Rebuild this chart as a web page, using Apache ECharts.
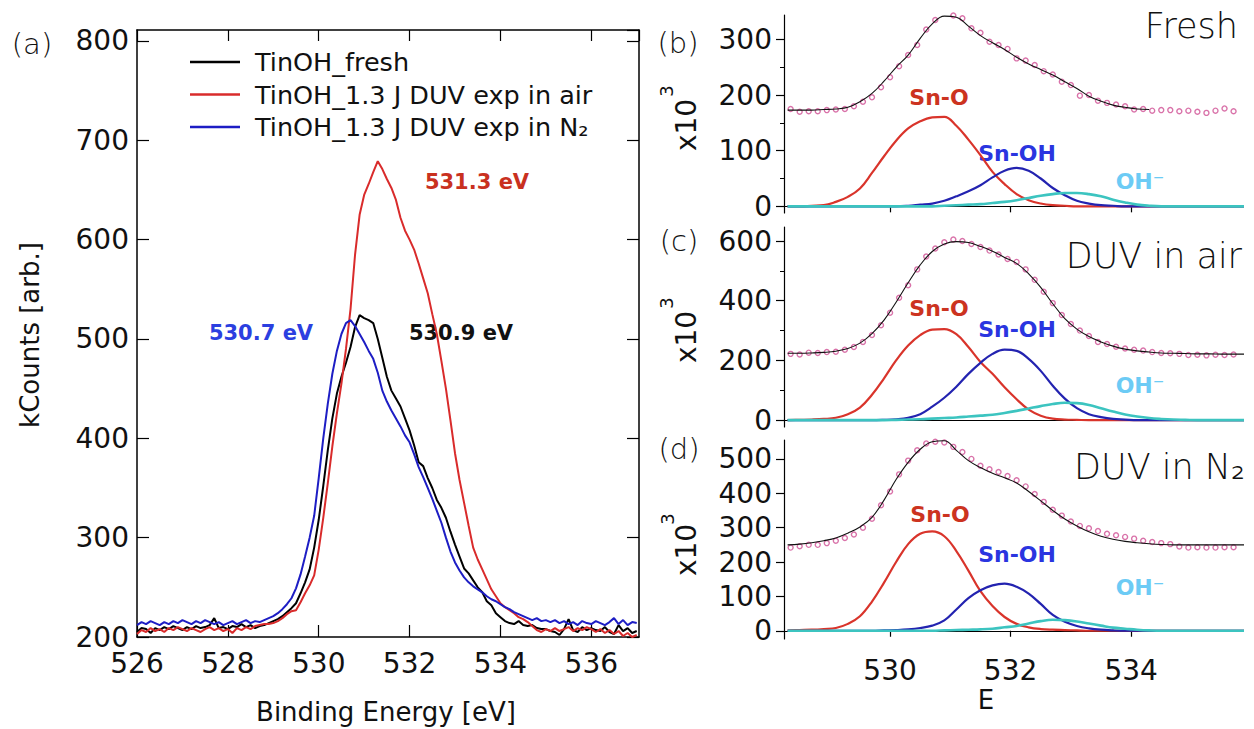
<!DOCTYPE html>
<html>
<head>
<meta charset="utf-8">
<script src="https://cdn.jsdelivr.net/npm/echarts@6/dist/echarts.min.js"></script>
<style>
html, body { margin: 0; padding: 0; background: #fff; }
#chart { width: 1254px; height: 729px; }
</style>
</head>
<body>
<div id="chart"></div>
<script>
// (a) O 1s spectra, 526.0 .. 537.0 eV in 0.1 eV steps (kCounts)
var specStart = 526.0, specStep = 0.1;
var fresh = [205,209,208,204,209,207,210,208,211,209,
  207,210,208,211,209,210,212,219,209,210,
  208,211,210,213,210,212,209,211,212,214,
  216,218,221,225,229,234,244,255,268,290,
  318,352,388,420,445,462,476,492,512,524,
  521,519,516,500,481,462,448,440,432,420,
  408,393,376,372,360,350,338,330,320,306,
  293,281,269,264,257,250,245,236,232,224,
  220,216,214,213,216,212,211,212,209,208,
  208,206,205,202,208,218,207,205,210,207,
  209,207,206,210,205,203,212,206,209,204,
  206];
var air = [203,207,205,209,206,208,205,209,207,210,
  208,206,209,207,205,208,210,207,209,206,
  208,204,209,207,210,208,211,212,213,213,
  214,216,219,223,226,227,235,244,252,262,
  288,320,355,392,425,455,490,530,585,625,
  645,656,668,679,671,661,652,640,622,609,
  600,590,576,561,546,525,505,478,450,418,
  385,358,335,312,290,278,268,258,248,241,
  234,230,227,224,220,218,215,211,207,205,
  208,206,209,206,208,210,206,209,207,210,
  208,205,208,204,207,203,206,201,204,200,
  202];
var n2 = [212,215,213,216,214,212,215,213,216,214,
  217,215,213,216,214,217,215,213,215,212,
  214,216,213,215,217,214,216,215,217,219,
  221,224,228,233,239,249,263,281,300,322,
  360,400,435,465,488,505,516,519,513,505,
  497,488,480,466,448,437,428,420,412,403,
  396,384,371,361,350,339,327,315,300,286,
  275,267,260,255,251,248,245,241,238,236,
  233,230,228,225,223,221,219,217,219,216,
  217,215,217,214,216,213,215,212,216,214,
  213,216,214,212,215,219,213,217,212,215,
  214];
var legendNames = ['TinOH_fresh', 'TinOH_1.3 J DUV exp in air', 'TinOH_1.3 J DUV exp in N\u2082'];

// (b)-(d) fitted components, 528.3 .. 535.9 eV in 0.2 eV steps (x10^3)
var fitStart = 528.3, fitStep = 0.2;
var freshSnO  = [0,0,1,2,8,17,32,60,90,118,140,153,160,161,145,120,92,62,40,22,11,5,2,1,0,0,0,0,0,0,0,0,0,0,0,0,0,0,0];
var freshSnOH = [0,0,0,0,0,0,0,0,0,0,1,3,5,10,18,27,38,52,64,69,64,50,33,20,10,5,2,1,0,0,0,0,0,0,0,0,0,0,0];
var freshOH   = [0,0,0,0,0,0,0,0,0,0,0,0,0,1,2,3,4,6,8,11,15,19,22,24,24,22,18,12,7,3,1,0,0,0,0,0,0,0,0];
var freshEnv  = [173,173,173,174,175,178,188,203,225,250,272,302,328,342,340,324,307,294,282,268,256,246,236,224,212,198,189,182,178,175,174];

var airSnO  = [0,1,2,4,8,20,42,85,140,200,250,285,303,305,288,245,195,155,110,70,35,15,5,2,1,0,0,0,0,0,0,0,0,0,0,0,0,0,0];
var airSnOH = [0,0,0,0,0,0,0,0,1,3,8,20,45,75,112,155,192,222,236,232,205,165,115,72,40,20,10,4,2,0,0,0,0,0,0,0,0,0,0];
var airOH   = [0,0,0,0,0,0,0,0,0,1,2,3,5,7,9,12,15,18,24,31,39,47,54,58,57,51,40,29,19,12,7,4,2,1,0,0,0,0,0];
var airEnv  = [224,224,225,227,231,240,258,290,335,395,460,520,565,590,598,595,582,566,545,525,490,445,390,340,305,280,262,248,238,232,228,225,224,223,222,222,221,221,221];

var n2SnO  = [1,2,3,5,8,20,42,85,140,200,252,282,289,275,232,175,115,72,40,20,10,5,3,2,1,0,0,0,0,0,0,0,0,0,0,0,0,0,0];
var n2SnOH = [0,0,0,0,0,0,0,0,1,2,4,8,15,30,62,95,118,132,137,128,108,78,46,26,14,7,3,1,0,0,0,0,0,0,0,0,0,0,0];
var n2OH   = [0,0,0,0,0,0,0,0,0,0,0,0,0,1,2,3,4,6,10,14,21,28,32,31,27,21,15,9,6,3,1,0,0,0,0,0,0,0,0];
var n2Env  = [250,252,256,262,270,284,302,330,380,440,490,528,550,553,525,495,475,458,445,430,405,378,350,325,305,288,275,266,260,256,253,251,250,250,250,250,250,250,250];

// measured points, 528.35 .. 535.70 eV in 0.15 eV steps
var ptStart = 528.35, ptStep = 0.15;
var freshPts = [175,170,171,171,173,174,175,180,188,196,
  214,232,252,272,290,318,335,345,343,338,
  320,312,296,290,283,266,262,254,243,237,
  224,218,199,200,190,186,183,180,174,175,
  172,173,173,171,172,170,168,172,176,171];
var airPts = [222,220,226,225,228,229,236,245,262,285,
  318,360,410,452,505,548,575,596,605,600,
  590,580,568,555,540,530,505,470,430,392,
  352,322,300,282,262,255,246,240,236,233,
  228,225,224,222,218,219,217,219,218,220];
var n2Pts = [242,246,250,250,255,262,270,280,300,326,
  365,405,455,495,525,545,550,548,535,520,
  500,480,470,462,450,438,420,398,375,352,
  335,318,305,298,290,282,278,273,268,262,
  258,255,252,245,242,243,242,242,243,243];

var FONT = 'DejaVu Sans';

function pairs(e0, step, vals) {
  return vals.map(function (v, i) { return [Math.round((e0 + i * step) * 100) / 100, v]; });
}

var chart = echarts.init(document.getElementById('chart'), null, { renderer: 'svg' });

function spec(name, vals, color) {
  return {
    name: name, type: 'line', xAxisIndex: 0, yAxisIndex: 0,
    data: pairs(specStart, specStep, vals), symbol: 'none',
    lineStyle: { color: color, width: 2 }, itemStyle: { color: color }, z: 3
  };
}

function comp(gi, yi, vals, color, width) {
  return {
    type: 'line', xAxisIndex: gi, yAxisIndex: yi,
    data: pairs(fitStart, fitStep, vals), symbol: 'none', smooth: 0.4,
    lineStyle: { color: color, width: width || 2.2 }, z: 3
  };
}

function pts(gi, yi, vals) {
  return {
    type: 'scatter', xAxisIndex: gi, yAxisIndex: yi,
    data: pairs(ptStart, ptStep, vals), symbol: 'circle', symbolSize: 5,
    itemStyle: { color: 'rgba(255,255,255,0)', borderColor: '#cf4f94', borderWidth: 1.4 }, z: 2
  };
}

function env(gi, yi, vals) {
  return {
    type: 'line', xAxisIndex: gi, yAxisIndex: yi,
    data: pairs(fitStart, fitStep, vals), symbol: 'none', smooth: 0.4,
    lineStyle: { color: '#111', width: 1.1 }, z: 4
  };
}

var axisLine = { show: true, lineStyle: { color: '#000', width: 1.5 } };
var rAxisLine = { show: true, lineStyle: { color: '#000', width: 1.2 } };

// right panels share the energy axis
function rightX(gi, ticks, labels) {
  return {
    type: 'value', gridIndex: gi, min: 528.24, max: 535.84, position: 'bottom',
    axisLine: rAxisLine, splitLine: { show: false },
    axisTick: ticks ? { show: true, inside: false, length: 6, customValues: [530, 532, 534], lineStyle: { color: '#000', width: 1.2 } } : { show: false },
    axisLabel: labels ? { show: true, customValues: [530, 532, 534], fontSize: 28, lineHeight: 28, fontFamily: FONT, color: '#111', margin: 17 } : { show: false }
  };
}

function rightY(gi, min, max, major) {
  return {
    type: 'value', gridIndex: gi, min: min, max: max, position: 'left',
    axisLine: rAxisLine, splitLine: { show: false },
    axisTick: { show: true, inside: false, length: 8, customValues: major, lineStyle: { color: '#000', width: 1.2 } },
    axisLabel: { show: true, customValues: major, fontSize: 28, fontFamily: FONT, color: '#111', margin: 12 }
  };
}

function minorY(gi, min, max, minor) {
  return {
    type: 'value', gridIndex: gi, min: min, max: max, position: 'left',
    axisLine: { show: false }, splitLine: { show: false }, axisLabel: { show: false },
    axisTick: { show: true, inside: false, length: 4, customValues: minor, lineStyle: { color: '#000', width: 1 } }
  };
}

function label(x, y, text, size, color, opts) {
  var o = opts || {};
  return {
    type: 'text', x: x, y: y, rotation: o.rot || 0,
    style: {
      text: text, fill: color, fontSize: size, fontFamily: FONT,
      fontWeight: o.weight || 'normal', lineHeight: size,
      align: o.align || 'center', verticalAlign: 'middle',
      textAlign: o.align || 'center', textVerticalAlign: 'middle'
    }
  };
}

var option = {
  animation: false,
  backgroundColor: '#fff',
  grid: [
    { left: 137, top: 30, width: 502, height: 607 },
    { left: 784, top: 15, width: 458, height: 198 },
    { left: 784, top: 227, width: 458, height: 200 },
    { left: 784, top: 440, width: 458, height: 199 }
  ],
  legend: {
    data: legendNames, orient: 'vertical', left: 190, top: 49, padding: 0,
    icon: 'rect', itemWidth: 50, itemHeight: 2.5, itemGap: 6.5,
    textStyle: { fontSize: 25.5, fontFamily: FONT, color: '#111', lineHeight: 26, padding: [0, 0, 0, 10] }
  },
  xAxis: [
    { type: 'value', gridIndex: 0, min: 526, max: 537.05, interval: 2, position: 'bottom',
      axisLine: axisLine, splitLine: { show: false },
      axisTick: { inside: true, length: 12, lineStyle: { color: '#000', width: 1.2 } },
      axisLabel: { fontSize: 28, fontFamily: FONT, color: '#111', margin: 12, showMaxLabel: false } },
    { type: 'value', gridIndex: 0, min: 526, max: 537.05, interval: 2, position: 'top',
      axisLine: axisLine, splitLine: { show: false },
      axisTick: { inside: true, length: 11, lineStyle: { color: '#000', width: 1.2 } },
      axisLabel: { show: false } },
    rightX(1, true, false),
    rightX(2, false, false),
    rightX(3, true, true)
  ],
  yAxis: [
    { type: 'value', gridIndex: 0, min: 200, max: 811, interval: 100, position: 'left',
      axisLine: axisLine, splitLine: { show: false },
      axisTick: { inside: true, length: 12, lineStyle: { color: '#000', width: 1.2 } },
      axisLabel: { fontSize: 28, fontFamily: FONT, color: '#111', margin: 8, showMaxLabel: false } },
    { type: 'value', gridIndex: 0, min: 200, max: 811, interval: 100, position: 'right',
      axisLine: axisLine, splitLine: { show: false },
      axisTick: { inside: true, length: 12, lineStyle: { color: '#000', width: 1.2 } },
      axisLabel: { show: false } },
    rightY(1, -12, 344, [0, 100, 200, 300]),
    minorY(1, -12, 344, [50, 150, 250]),
    rightY(2, -23, 647, [0, 200, 400, 600]),
    minorY(2, -23, 647, [100, 300, 500]),
    rightY(3, -24, 555, [0, 100, 200, 300, 400, 500])
  ],
  series: [
    spec(legendNames[0], fresh, '#000'),
    spec(legendNames[1], air, '#d92b2b'),
    spec(legendNames[2], n2, '#1d1dc4'),

    pts(2, 2, freshPts), env(2, 2, freshEnv),
    comp(2, 2, freshSnO, '#d9342b'), comp(2, 2, freshSnOH, '#2323b0'), comp(2, 2, freshOH, '#3cc4c0', 2.6),

    pts(3, 4, airPts), env(3, 4, airEnv),
    comp(3, 4, airSnO, '#d9342b'), comp(3, 4, airSnOH, '#2323b0'), comp(3, 4, airOH, '#3cc4c0', 2.6),

    pts(4, 6, n2Pts), env(4, 6, n2Env),
    comp(4, 6, n2SnO, '#d9342b'), comp(4, 6, n2SnOH, '#2323b0'), comp(4, 6, n2OH, '#3cc4c0', 2.6)
  ],
  graphic: [
    label(32, 44, '(a)', 29, '#111', { weight: 300 }),
    label(30, 335, 'kCounts [arb.]', 26, '#111', { rot: Math.PI / 2 }),
    label(386, 712, 'Binding Energy [eV]', 26, '#111'),
    label(477, 182, '531.3 eV', 21, '#c9311f', { weight: 'bold' }),
    label(261, 333, '530.7 eV', 21, '#2b3fe0', { weight: 'bold' }),
    label(461, 333, '530.9 eV', 21, '#111', { weight: 'bold' }),

    label(678, 43, '(b)', 29, '#111', { weight: 300 }),
    label(686, 125, 'x10', 28, '#111', { rot: Math.PI / 2 }),
    label(666, 91, '3', 18, '#111', { rot: Math.PI / 2 }),
    label(1238, 26, 'Fresh', 35, '#111', { align: 'right', weight: 300 }),
    label(939, 97, 'Sn-O', 22, '#cc3320', { weight: 'bold' }),
    label(1017, 153, 'Sn-OH', 22, '#2a35e0', { weight: 'bold' }),
    label(1140, 181, 'OH\u207B', 22, '#6ccbf5', { weight: 'bold' }),

    label(679, 241, '(c)', 29, '#111', { weight: 300 }),
    label(686, 337, 'x10', 28, '#111', { rot: Math.PI / 2 }),
    label(666, 303, '3', 18, '#111', { rot: Math.PI / 2 }),
    label(1242, 256, 'DUV in air', 35, '#111', { align: 'right', weight: 300 }),
    label(939, 308, 'Sn-O', 22, '#cc3320', { weight: 'bold' }),
    label(1017, 329, 'Sn-OH', 22, '#2a35e0', { weight: 'bold' }),
    label(1140, 385, 'OH\u207B', 22, '#6ccbf5', { weight: 'bold' }),

    label(679, 449, '(d)', 29, '#111', { weight: 300 }),
    label(686, 550, 'x10', 28, '#111', { rot: Math.PI / 2 }),
    label(667, 519, '3', 18, '#111', { rot: Math.PI / 2 }),
    label(1245, 467, 'DUV in N\u2082', 35, '#111', { align: 'right', weight: 300 }),
    label(940, 514, 'Sn-O', 22, '#cc3320', { weight: 'bold' }),
    label(1017, 554, 'Sn-OH', 22, '#2a35e0', { weight: 'bold' }),
    label(1140, 587, 'OH\u207B', 22, '#6ccbf5', { weight: 'bold' }),
    label(986, 700, 'E', 26, '#111')
  ]
};

chart.setOption(option);
</script>
</body>
</html>
